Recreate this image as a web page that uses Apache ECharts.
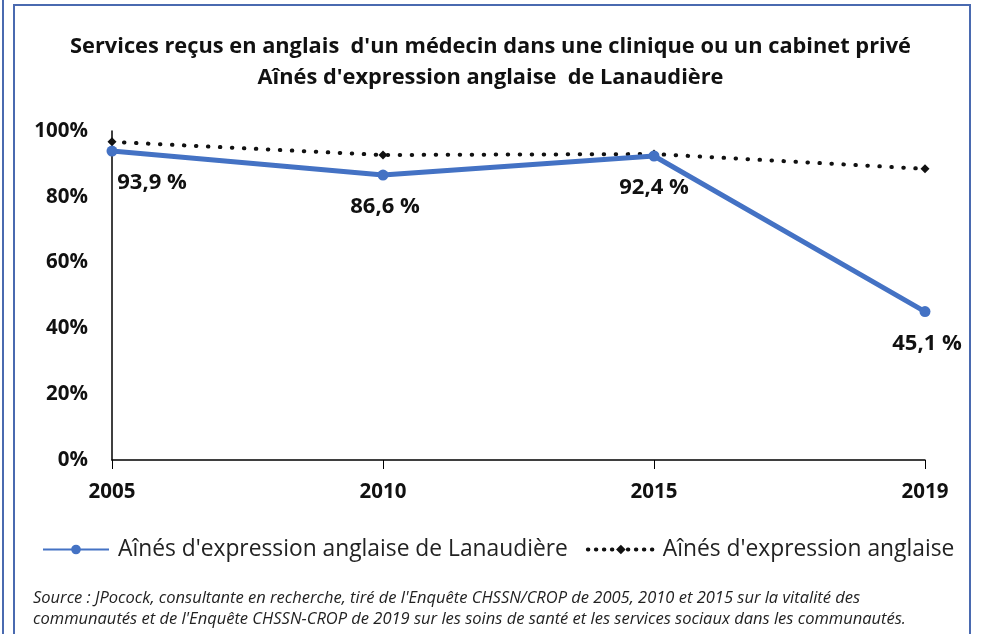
<!DOCTYPE html>
<html>
<head>
<meta charset="utf-8">
<script src="https://cdn.jsdelivr.net/npm/echarts@6/dist/echarts.min.js"></script>
<style>
  html, body { margin: 0; padding: 0; background: #fff; }
  #chart { width: 981px; height: 634px; }
</style>
</head>
<body>
<div id="chart"></div>
<script>
const years = ['2005', '2010', '2015', '2019']
const lanaudiere = [93.9, 86.6, 92.4, 45.1]
const quebec = [96.7, 92.7, 93.0, 88.5]
const yTicks = [0, 20, 40, 60, 80, 100]

const font = '"Open Sans", "Liberation Sans", sans-serif'
// horizontal nudge of each value label, as in the original
const labelShift = [40, 2, 0, 2]

const chart = echarts.init(document.getElementById('chart'))
chart.setOption({
  animation: false,
  textStyle: { fontFamily: font },
  title: {
    text: "Services reçus en anglais  d'un médecin dans une clinique ou un cabinet privé\nAînés d'expression anglaise  de Lanaudière",
    left: 'center',
    top: 26,
    textStyle: { fontSize: 21.8, fontWeight: 'bold', color: '#111', lineHeight: 31, fontFamily: font }
  },
  legend: {
    top: 533,
    left: 37,
    itemWidth: 66,
    itemHeight: 12,
    itemGap: 18,
    textStyle: { fontSize: 22.8, color: '#222', fontFamily: font, padding: [0, 0, 0, 4] },
    data: [
      { name: "Aînés d'expression anglaise de Lanaudière" },
      { name: "Aînés d'expression anglaise", lineStyle: { type: [0.5, 7.5], width: 4, cap: 'round' } }
    ]
  },
  grid: { left: 112, right: 56, top: 131, bottom: 174 },
  xAxis: {
    type: 'category',
    data: years,
    boundaryGap: false,
    axisLine: { lineStyle: { color: '#000', width: 1.5 } },
    axisTick: { show: true, length: 9, lineStyle: { color: '#000' } },
    axisLabel: { fontSize: 20.5, fontWeight: 'bold', color: '#111', margin: 22 }
  },
  yAxis: {
    type: 'value',
    min: yTicks[0],
    max: yTicks[yTicks.length - 1],
    interval: 20,
    axisLine: { show: true, lineStyle: { color: '#000', width: 1.5 } },
    axisTick: { show: false },
    splitLine: { show: false },
    axisLabel: { fontSize: 20.5, fontWeight: 'bold', color: '#111', margin: 24, formatter: '{value}%' }
  },
  series: [
    {
      name: "Aînés d'expression anglaise",
      type: 'line',
      data: quebec,
      symbol: 'diamond',
      symbolSize: 9,
      itemStyle: { color: '#111' },
      lineStyle: { color: '#111', width: 4, type: [0.5, 11.5], cap: 'round' },
      z: 3
    },
    {
      name: "Aînés d'expression anglaise de Lanaudière",
      type: 'line',
      data: lanaudiere.map((v, i) => ({
        value: v,
        label: { offset: [labelShift[i], 32] }
      })),
      symbol: 'circle',
      symbolSize: 11,
      itemStyle: { color: '#4472C4' },
      lineStyle: { color: '#4472C4', width: 5 },
      label: {
        show: true,
        position: 'inside',
        align: 'center',
        verticalAlign: 'middle',
        fontSize: 22,
        fontWeight: 'bold',
        color: '#111',
        formatter: p => p.value.toFixed(1).replace('.', ',') + ' %'
      },
      z: 4
    }
  ],
  graphic: [
    { type: 'rect', shape: { x: 14, y: 5, width: 956, height: 640 }, style: { fill: null, stroke: '#4a6ab0', lineWidth: 2 }, silent: true },
    { type: 'line', shape: { x1: 3, y1: 0, x2: 3, y2: 634 }, style: { stroke: '#4a6ab0', lineWidth: 2 }, silent: true },
    {
      type: 'text', left: 33, top: 588,
      style: {
        text: "Source : JPocock, consultante en recherche, tiré de l'Enquête CHSSN/CROP de 2005, 2010 et 2015 sur la vitalité des\ncommunautés et de l'Enquête CHSSN-CROP de 2019 sur les soins de santé et les services sociaux dans les communautés.",
        font: 'italic 16.5px ' + font,
        fill: '#222',
        lineHeight: 21
      }
    }
  ]
})
</script>
</body>
</html>
